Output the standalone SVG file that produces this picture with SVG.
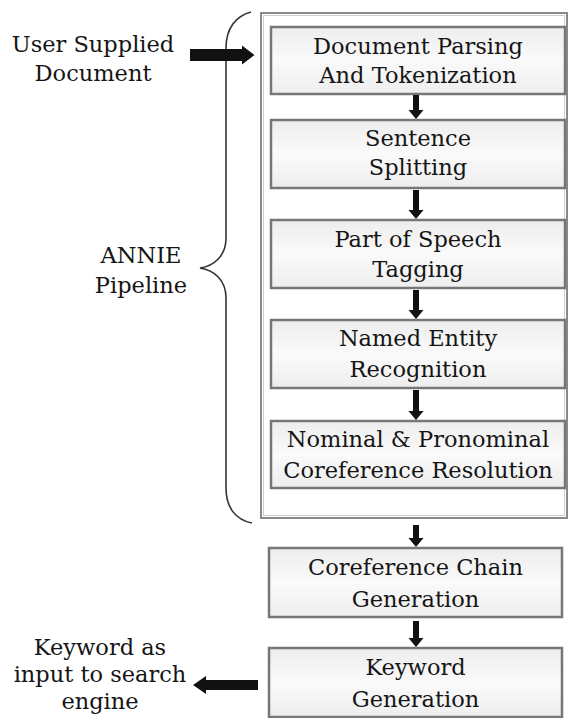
<svg xmlns="http://www.w3.org/2000/svg" width="568" height="718" viewBox="0 0 568 718">
  <defs>
    <linearGradient id="boxfill" x1="0" y1="0" x2="0" y2="1">
      <stop offset="0" stop-color="#ededed"/>
      <stop offset="0.5" stop-color="#fafafa"/>
      <stop offset="1" stop-color="#eeeeee"/>
    </linearGradient>
  </defs>
  <style>
    .box { fill: url(#boxfill); stroke: #777; stroke-width: 2.5; }
    .t { font-family: "DejaVu Serif", "Liberation Serif", serif; font-size: 22.5px; fill: #151515; text-anchor: middle; }
    .arrow { fill: #111; }
  </style>
  <rect width="568" height="718" fill="#ffffff"/>

  <g id="annie-container">
    <rect x="261" y="13" width="306" height="505" fill="#ffffff" stroke="#7d7d7d" stroke-width="1.8"/>
    <rect x="263.5" y="15.5" width="301" height="500" fill="none" stroke="#cfcfcf" stroke-width="1"/>
  </g>

  <g id="brace">
    <path d="M251,12 C236,16 226,28 226,48 L226,238 C226,256 214,266 200,268 C214,270 226,280 226,298 L226,488 C226,508 236,520 252,523" fill="none" stroke="#333" stroke-width="1.6"/>
  </g>

  <g id="label-annie">
    <text class="t" x="141" y="263">ANNIE</text>
    <text class="t" x="141" y="293">Pipeline</text>
  </g>

  <g id="label-input">
    <text class="t" x="93" y="52">User Supplied</text>
    <text class="t" x="93" y="81">Document</text>
  </g>

  <g id="label-output">
    <text class="t" x="100" y="655">Keyword as</text>
    <text class="t" x="100" y="682">input to search</text>
    <text class="t" x="100" y="709">engine</text>
  </g>

  <g id="n1">
    <rect class="box" x="271" y="27" width="294" height="67"/>
    <text class="t" x="418" y="54">Document Parsing</text>
    <text class="t" x="418" y="83">And Tokenization</text>
  </g>
  <g id="n2">
    <rect class="box" x="271" y="120" width="294" height="68"/>
    <text class="t" x="418" y="146">Sentence</text>
    <text class="t" x="418" y="175">Splitting</text>
  </g>
  <g id="n3">
    <rect class="box" x="271" y="220" width="294" height="68"/>
    <text class="t" x="418" y="247">Part of Speech</text>
    <text class="t" x="418" y="277">Tagging</text>
  </g>
  <g id="n4">
    <rect class="box" x="271" y="320" width="294" height="68"/>
    <text class="t" x="418" y="346">Named Entity</text>
    <text class="t" x="418" y="377">Recognition</text>
  </g>
  <g id="n5">
    <rect class="box" x="271" y="421" width="294" height="67"/>
    <text class="t" x="418" y="447">Nominal &amp; Pronominal</text>
    <text class="t" x="418" y="478">Coreference Resolution</text>
  </g>
  <g id="n6">
    <rect class="box" x="269" y="548" width="293" height="69"/>
    <text class="t" x="415.5" y="575">Coreference Chain</text>
    <text class="t" x="415.5" y="607">Generation</text>
  </g>
  <g id="n7">
    <rect class="box" x="269" y="648" width="293" height="69"/>
    <text class="t" x="415.5" y="675">Keyword</text>
    <text class="t" x="415.5" y="707">Generation</text>
  </g>

  <g id="connectors">
    <path class="arrow" d="M413,95 L419,95 L419,110 L423.5,110 L416,119 L408.5,110 L413,110 Z"/>
    <path class="arrow" d="M413,190 L419,190 L419,210 L423.5,210 L416,219 L408.5,210 L413,210 Z"/>
    <path class="arrow" d="M413,290 L419,290 L419,310 L423.5,310 L416,319 L408.5,310 L413,310 Z"/>
    <path class="arrow" d="M413,390 L419,390 L419,411 L423.5,411 L416,420 L408.5,411 L413,411 Z"/>
    <path class="arrow" d="M413,525 L419,525 L419,538 L423.5,538 L416,547 L408.5,538 L413,538 Z"/>
    <path class="arrow" d="M413,621 L419,621 L419,638 L423.5,638 L416,647 L408.5,638 L413,638 Z"/>
    <path class="arrow" d="M190,49 L242,49 L242,45.5 L254.5,55 L242,64.5 L242,61 L190,61 Z"/>
    <path class="arrow" d="M258,680 L206,680 L206,676 L193,685 L206,694 L206,690 L258,690 Z"/>
  </g>
</svg>
